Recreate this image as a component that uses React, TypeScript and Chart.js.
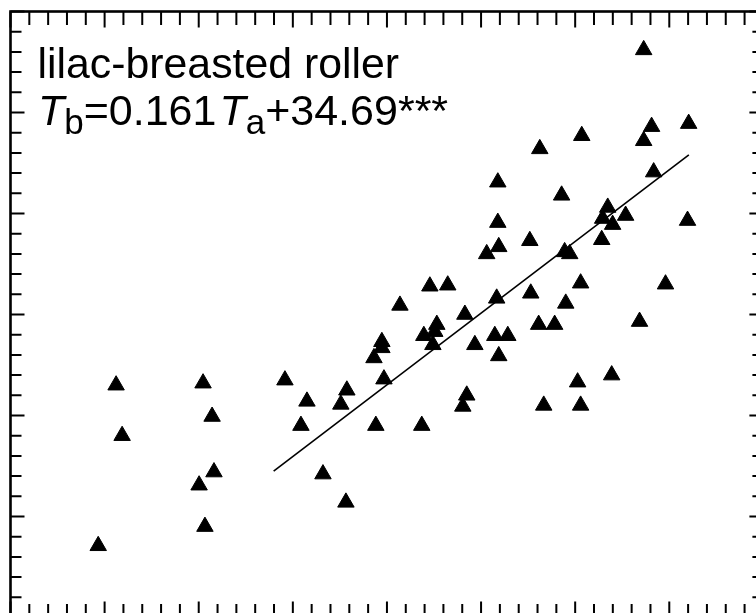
import React, { useEffect, useRef } from "react";
import { Chart, registerables } from "chart.js";

Chart.register(...registerables);

// Ambient temperature (Ta, °C) of each observation
const taValues: number[] = [
  4.66, 5.61, 5.93, 10.23, 10.71, 10.02, 10.81, 10.33, 14.58, 15.75,
  15.43, 16.6, 17.82, 17.55, 17.87, 19.41, 19.31, 19.73, 19.73, 19.84,
  20.69, 21.85, 21.96, 22.65, 22.54, 22.44, 22.28, 23.23, 24.14, 24.24,
  24.03, 24.67, 25.3, 25.94, 25.89, 25.89, 25.83, 25.73, 25.94, 26.42,
  27.59, 27.64, 28.06, 28.91, 28.12, 29.28, 29.5, 29.44, 29.71, 28.33,
  30.13, 30.29, 30.29, 30.35, 31.41, 31.73, 31.46, 31.99, 32.68, 31.94,
  33.42, 33.64, 33.64, 34.06, 34.17, 34.8, 36.03, 35.97,
];

// Body temperature (Tb, °C) of each observation
const tbValues: number[] = [
  36.71, 38.3, 37.8, 38.32, 37.99, 37.31, 37.44, 36.9, 38.35, 38.14,
  37.9, 37.42, 37.14, 38.11, 38.25, 37.9, 38.57, 38.73, 38.67, 38.36,
  39.09, 37.9, 38.79, 38.9, 38.83, 38.7, 39.28, 39.29, 39.0, 38.2,
  38.09, 38.7, 39.6, 39.67, 39.91, 40.31, 39.16, 38.79, 38.59, 38.79,
  39.73, 39.21, 38.9, 38.9, 40.64, 40.18, 39.11, 39.62, 39.6, 38.1,
  38.33, 38.1, 39.31, 40.77, 39.74, 40.06, 39.95, 39.89, 39.98, 38.4,
  38.93, 41.62, 40.72, 40.86, 40.41, 39.3, 40.89, 39.93,
];

// Regression line end points
const fitTa: number[] = [13.98, 36.04];
const fitTb: number[] = [37.45, 40.58];

// Texts
const speciesLabel = "lilac-breasted roller";
const eqVar = "T";
const eqSubB = "b";
const eqSubA = "a";
const eqSlope = "=0.161";
const eqIntercept = "+34.69";
const eqSignificance = "***";

// Axis ranges (tick labels are outside the visible picture)
const xMin = 0;
const xMax = 40;
const xMinorStep = 1;
const xMajorEvery = 5;
const yMin = 36;
const yMax = 42;
const yMinorStep = 0.2;
const yMajorEvery = 5;

const framePlugin = {
  id: "frameTicksText",
  afterDatasetsDraw(chart: any) {
    const { ctx, chartArea, scales } = chart;
    const { left, right, top, bottom } = chartArea;
    const xs = scales.x;
    const ys = scales.y;
    ctx.save();
    ctx.strokeStyle = "#000";
    ctx.lineCap = "butt";
    ctx.lineWidth = 2;
    const nX = Math.round((xMax - xMin) / xMinorStep);
    for (let i = 0; i <= nX; i++) {
      const px = xs.getPixelForValue(xMin + i * xMinorStep);
      const len = i % xMajorEvery === 0 ? 16 : 13.5;
      ctx.beginPath();
      ctx.moveTo(px, bottom);
      ctx.lineTo(px, bottom - len);
      ctx.moveTo(px, top);
      ctx.lineTo(px, top + len);
      ctx.stroke();
    }
    const nY = Math.round((yMax - yMin) / yMinorStep);
    for (let i = 0; i <= nY; i++) {
      const py = ys.getPixelForValue(yMin + i * yMinorStep);
      const len = i % yMajorEvery === 0 ? 14 : 11;
      ctx.beginPath();
      ctx.moveTo(left, py);
      ctx.lineTo(left + len, py);
      ctx.moveTo(right, py);
      ctx.lineTo(right - len, py);
      ctx.stroke();
    }
    ctx.lineWidth = 2.6;
    ctx.strokeRect(left, top, right - left, bottom - top);

    // Texts
    const fam = '"Liberation Sans", Arial, sans-serif';
    ctx.fillStyle = "#000";
    ctx.textBaseline = "alphabetic";
    ctx.textAlign = "left";
    ctx.font = `42.8px ${fam}`;
    ctx.fillText(speciesLabel, 37.5, 78);

    const base = 125;
    const subBase = 134;
    let x = 38;
    const put = (t: string, font: string, y: number) => {
      ctx.font = font;
      ctx.fillText(t, x, y);
      x += ctx.measureText(t).width;
    };
    put(eqVar, `italic 43px ${fam}`, base);
    put(eqSubB, `35px ${fam}`, subBase);
    put(eqSlope, `43px ${fam}`, base);
    x += 3;
    put(eqVar, `italic 43px ${fam}`, base);
    put(eqSubA, `35px ${fam}`, subBase);
    put(eqIntercept + eqSignificance, `43px ${fam}`, base);
    ctx.restore();
  },
};

export default function App() {
  const ref = useRef<HTMLCanvasElement | null>(null);
  useEffect(() => {
    if (!ref.current) return;
    const points = taValues.map((v, i) => ({ x: v, y: tbValues[i] }));
    const fit = fitTa.map((v, i) => ({ x: v, y: fitTb[i] }));
    const chart = new Chart(ref.current, {
      type: "scatter",
      data: {
        datasets: [
          {
            data: points,
            pointStyle: "triangle",
            pointRadius: 9.5,
            backgroundColor: "#000",
            borderColor: "#000",
            borderWidth: 1,
          },
          {
            data: fit,
            showLine: true,
            borderColor: "#000",
            borderWidth: 1.6,
            pointRadius: 0,
            fill: false,
          },
        ],
      },
      options: {
        responsive: false,
        animation: false,
        devicePixelRatio: 1,
        layout: { padding: { left: 8.7, top: 11.5, right: 16.6, bottom: 22.5 } },
        plugins: { legend: { display: false }, tooltip: { enabled: false } },
        scales: {
          x: { type: "linear", min: xMin, max: xMax, display: false },
          y: { type: "linear", min: yMin, max: yMax, display: false },
        },
      },
      plugins: [framePlugin],
    } as any);
    return () => chart.destroy();
  }, []);
  return (
    <div
      style={{
        position: "fixed",
        left: 0,
        top: 0,
        width: 756,
        height: 613,
        overflow: "hidden",
        background: "#fff",
      }}
    >
      <canvas ref={ref} width={780} height={640} style={{ display: "block" }} />
    </div>
  );
}
